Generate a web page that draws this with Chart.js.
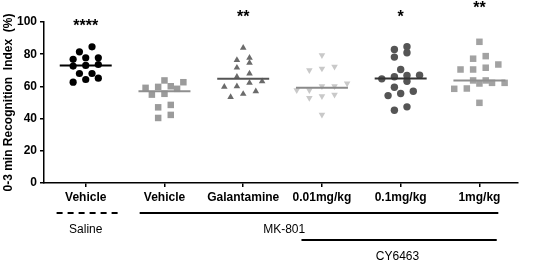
<!DOCTYPE html>
<html>
<head>
<meta charset="utf-8">
<script src="https://cdn.jsdelivr.net/npm/chart.js@4.4.1/dist/chart.umd.min.js"></script>
<style>
html, body { margin: 0; padding: 0; background: #fff; }
</style>
</head>
<body>
<canvas id="grafico" width="533" height="262"></canvas>
<script>
// Categorias do eixo x
var categorias = ['Vehicle', 'Vehicle', 'Galantamine', '0.01mg/kg', '0.1mg/kg', '1mg/kg'];

// Valores - índice de reconhecimento (%) por animal
var salineVehicle = [81.5, 76.8, 72.6, 68, 62.6, 77.8, 73.6, 68, 84.6, 77.8, 64.3, 73, 65.1];
var mk801Vehicle = [59.1, 63.7, 59.7, 55.4, 60.1, 62.6, 54.9, 58.5, 47, 48.5, 40.4, 42.3];
var galantamina = [84, 74.7, 76.3, 77.8, 71.6, 68, 66, 63.2, 59.7, 60.1, 62.2, 53.4, 55.3, 57];
var cy001 = [79.4, 70.1, 71.1, 72.2, 57.6, 60.1, 61.8, 60.1, 53.9, 57.6, 52.9, 54.9, 42.5];
var cy01 = [80.9, 82.9, 84.6, 78.2, 70.5, 66, 63.2, 64.7, 66.8, 67, 55.6, 57, 59.5, 54.3, 45.2, 47.3];
var cy1 = [87.7, 77.2, 78.8, 73.6, 70.5, 71.6, 70.5, 63.7, 61.8, 62.2, 58.5, 63.7, 58.7, 62.2, 49.8];

// Medianas (linha horizontal de cada grupo)
var medianas = [73, 57, 64.7, 59.1, 64.9, 63.7];

// Asteriscos de significância e a altura (no eixo y) onde aparecem
var significancia = ['****', '', '**', '', '*', '**'];
var alturaSignif = [100, null, 105.8, null, 105.8, 111];

var yTicks = [0, 20, 40, 60, 80, 100];

var grupos = [salineVehicle, mk801Vehicle, galantamina, cy001, cy01, cy1];
var cores = ['#000000', '#9b9b9b', '#6b6b6b', '#c9c9c9', '#555555', '#a2a2a2'];
var coresLinha = ['#000000', '#8f8f8f', '#555555', '#8a8a8a', '#333333', '#8f8f8f'];
var simbolos = ['circle', 'rect', 'triangle', 'triangle', 'circle', 'rect'];
var rotacoes = [0, 0, 0, 180, 0, 0];
var raios = [3.6, 4.6, 3.8, 3.8, 3.7, 4.6];

// Tratamentos por baixo do eixo x
var tratamentos = [
    { nome: 'Saline', de: -0.37, ate: 0.43, rotulo: 0, nivel: 0, tracejado: true },
    { nome: 'MK-801', de: 0.685, ate: 5.24, rotulo: 2.52, nivel: 0, tracejado: false },
    { nome: 'CY6463', de: 2.74, ate: 5.22, rotulo: 3.96, nivel: 1, tracejado: false }
];

// Distribui os pontos em linhas (tipo GraphPad) para não se sobreporem
var enxame = function(valores, largura, passo) {
    var ord = valores.slice().sort(function(a, b) { return a - b; });
    var linhas = [];
    ord.forEach(function(v) {
        var ult = linhas[linhas.length - 1];
        if (ult && v - ult[0] < largura) ult.push(v); else linhas.push([v]);
    });
    var pts = [];
    linhas.forEach(function(l) {
        l.forEach(function(v, k) {
            pts.push({ dx: (k - (l.length - 1) / 2) * passo, y: v });
        });
    });
    return pts;
};

var datasets = [];
grupos.forEach(function(g, i) {
    datasets.push({
        type: 'scatter',
        data: enxame(g, 4.2, 0.16).map(function(p) { return { x: i + p.dx, y: p.y }; }),
        pointStyle: simbolos[i],
        rotation: rotacoes[i],
        pointRadius: raios[i],
        backgroundColor: cores[i],
        borderColor: cores[i],
        borderWidth: 0,
        order: 2
    });
    datasets.push({
        type: 'line',
        data: [{ x: i - 0.33, y: medianas[i] }, { x: i + 0.33, y: medianas[i] }],
        borderColor: coresLinha[i],
        borderWidth: 2,
        pointRadius: 0,
        order: 1
    });
});

var extras = {
    id: 'extras',
    afterDraw: function(chart) {
        var ctx = chart.ctx;
        var sx = chart.scales.x, sy = chart.scales.y;
        ctx.save();
        // asteriscos
        ctx.fillStyle = '#000';
        ctx.font = 'bold 16px "Liberation Sans", Arial, sans-serif';
        ctx.textAlign = 'center';
        ctx.textBaseline = 'alphabetic';
        significancia.forEach(function(s, i) {
            if (!s) return;
            ctx.fillText(s, sx.getPixelForValue(i), sy.getPixelForValue(alturaSignif[i]) + 9);
        });
        // linhas de tratamento
        var base = sx.top;
        ctx.strokeStyle = '#000';
        ctx.lineWidth = 2;
        ctx.font = '12px "Liberation Sans", Arial, sans-serif';
        ctx.textBaseline = 'middle';
        tratamentos.forEach(function(t) {
            var yLinha = base + 30 + t.nivel * 27;
            ctx.setLineDash(t.tracejado ? [6, 5] : []);
            ctx.beginPath();
            ctx.moveTo(sx.getPixelForValue(t.de), yLinha);
            ctx.lineTo(sx.getPixelForValue(t.ate), yLinha);
            ctx.stroke();
            ctx.fillText(t.nome, sx.getPixelForValue(t.rotulo), yLinha + 17);
        });
        ctx.restore();
    }
};

var ctx1 = document.getElementById('grafico').getContext('2d');
var grafico = new Chart(ctx1, {
    data: { datasets: datasets },
    options: {
        responsive: false,
        animation: false,
        layout: { padding: { top: 22, right: 15, left: 0, bottom: 0 } },
        plugins: { legend: { display: false }, tooltip: { enabled: false } },
        scales: {
            x: {
                type: 'linear',
                min: -0.53,
                max: 5.49,
                afterBuildTicks: function(scale) {
                    scale.ticks = categorias.map(function(c, i) { return { value: i }; });
                },
                afterFit: function(scale) { scale.height = 79; },
                ticks: {
                    color: '#000',
                    padding: 3,
                    maxRotation: 0,
                    autoSkip: false,
                    font: { family: '"Liberation Sans", Arial, sans-serif', size: 12, weight: 'bold' },
                    callback: function(v) { return categorias[v]; }
                },
                grid: { drawOnChartArea: false, drawTicks: true, tickLength: 4, color: '#000', lineWidth: 1.5 },
                border: { display: true, color: '#000', width: 1.5 }
            },
            y: {
                min: 0,
                max: 100,
                afterBuildTicks: function(scale) {
                    scale.ticks = yTicks.map(function(v) { return { value: v }; });
                },
                afterFit: function(scale) { scale.width = 44; },
                ticks: {
                    color: '#000',
                    padding: 3,
                    font: { family: '"Liberation Sans", Arial, sans-serif', size: 12, weight: 'bold' }
                },
                title: {
                    display: true,
                    text: '0-3 min Recognition  Index  (%)',
                    color: '#000',
                    padding: { top: 1, bottom: 0 },
                    font: { family: '"Liberation Sans", Arial, sans-serif', size: 12, weight: 'bold' }
                },
                grid: { drawOnChartArea: false, drawTicks: true, tickLength: 4, color: '#000', lineWidth: 1.5 },
                border: { display: true, color: '#000', width: 1.5 }
            }
        }
    },
    plugins: [extras]
});
</script>
</body>
</html>
